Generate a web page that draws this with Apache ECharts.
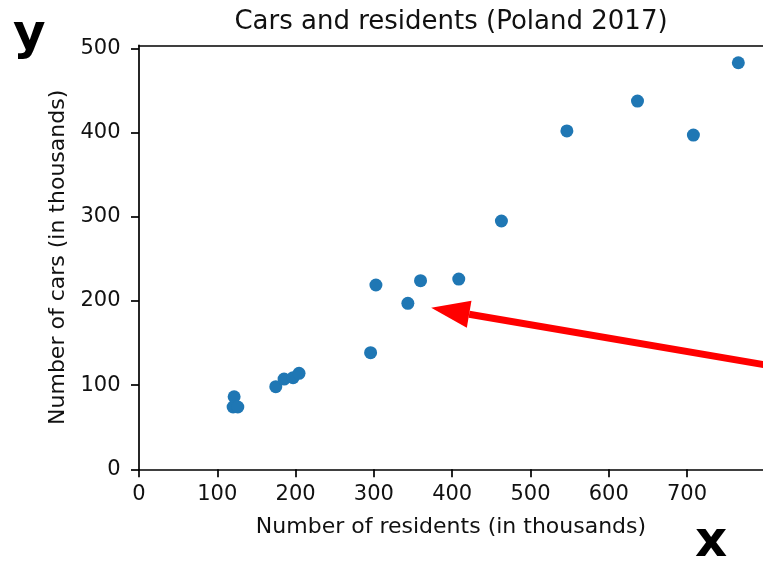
<!DOCTYPE html>
<html>
<head>
<meta charset="utf-8">
<script src="https://cdn.jsdelivr.net/npm/echarts@6/dist/echarts.min.js"></script>
<style>
  html, body { margin: 0; padding: 0; background: #fff; }
  #chart { width: 763px; height: 563px; }
</style>
</head>
<body>
<div id="chart"></div>
<script>
// Residents vs. registered cars in Polish cities, 2017 (thousands)
const residents = [121.5, 120.2, 126.2, 174.7, 185.3, 196.8, 204.4, 295.8, 302.6, 343.4, 359.6, 408.4, 462.9, 546.5, 636.7, 708.1, 765.5];
const cars      = [86.2,  74.0,  74.0,  98.1,  107.2, 108.8, 114.0, 138.5, 218.9, 197.1, 224.0, 226.0, 294.9, 401.9, 437.4, 397.0, 482.9];

const xTicks = [0, 100, 200, 300, 400, 500, 600, 700];
const yTicks = [0, 100, 200, 300, 400, 500];

// Callout arrow, in data units: head at arrowTip, shaft running off to the right
const arrowTip  = [373.2, 191.9];
const arrowTail = [830, 119.2];

const FONT = 'DejaVu Sans';
const TEXT = '#111';

const chart = echarts.init(document.getElementById('chart'), null, { renderer: 'canvas' });

const axisLineStyle = { color: '#000', width: 1.7 };

chart.setOption({
  animation: false,
  backgroundColor: '#fff',
  grid: { left: 139, right: -1, top: 45.4, bottom: 93.7 },
  xAxis: [{
    type: 'value', min: 0, max: 797,
    name: 'Number of residents (in thousands)',
    nameLocation: 'middle', nameGap: 47,
    nameTextStyle: { fontFamily: FONT, fontSize: 22, color: TEXT },
    axisLine: { show: true, onZero: false, lineStyle: axisLineStyle },
    axisTick: { show: true, length: 8, lineStyle: axisLineStyle, customValues: xTicks },
    axisLabel: { fontFamily: FONT, fontSize: 21, color: TEXT, margin: 15, customValues: xTicks },
    splitLine: { show: false }
  }, {
    // top frame line only
    type: 'value', position: 'top', min: 0, max: 797,
    axisLine: { show: true, onZero: false, lineStyle: axisLineStyle },
    axisTick: { show: false }, axisLabel: { show: false }, splitLine: { show: false }
  }],
  yAxis: {
    type: 'value', min: 0, max: 503.5,
    name: 'Number of cars (in thousands)',
    nameLocation: 'middle', nameGap: 70,
    nameTextStyle: { fontFamily: FONT, fontSize: 22, color: TEXT },
    axisLine: { show: true, onZero: false, lineStyle: axisLineStyle },
    axisTick: { show: true, length: 8, lineStyle: axisLineStyle, customValues: yTicks },
    axisLabel: { fontFamily: FONT, fontSize: 21, color: TEXT, margin: 18.5, customValues: yTicks },
    splitLine: { show: false }
  },
  series: [{
    type: 'scatter',
    xAxisIndex: 0,
    data: residents.map((r, i) => [r, cars[i]]),
    symbolSize: 13,
    itemStyle: { color: '#1f77b4', opacity: 1 },
    emphasis: { disabled: true },
    clip: false
  }]
});

// Overlay text and the red callout arrow
const tip = chart.convertToPixel({ xAxisIndex: 0, yAxisIndex: 0 }, arrowTip);
const tail = chart.convertToPixel({ xAxisIndex: 0, yAxisIndex: 0 }, arrowTail);
const dx = tail[0] - tip[0], dy = tail[1] - tip[1];
const len = Math.hypot(dx, dy);
const ux = dx / len, uy = dy / len;
const headLen = 38.5, headHalf = 13.8;
const base = [tip[0] + ux * headLen, tip[1] + uy * headLen];
const px = -uy, py = ux;

chart.setOption({
  graphic: [
    {
      type: 'text', x: 451, y: 22,
      style: { text: 'Cars and residents (Poland 2017)', font: '26px "' + FONT + '"',
               fill: TEXT, textAlign: 'center', textVerticalAlign: 'middle' }
    },
    {
      type: 'text', x: 13, y: 35.7,
      style: { text: 'y', font: 'bold 50px "' + FONT + '"', fill: '#000',
               textAlign: 'left', textVerticalAlign: 'middle' }
    },
    {
      type: 'text', x: 695, y: 542.7,
      style: { text: 'x', font: 'bold 50px "' + FONT + '"', fill: '#000',
               textAlign: 'left', textVerticalAlign: 'middle' }
    },
    {
      type: 'line', z: 100,
      shape: { x1: base[0], y1: base[1], x2: tail[0], y2: tail[1] },
      style: { stroke: '#ff0000', lineWidth: 7 }
    },
    {
      type: 'polygon', z: 100,
      shape: { points: [
        tip,
        [base[0] + px * headHalf, base[1] + py * headHalf],
        [base[0] - px * headHalf, base[1] - py * headHalf]
      ] },
      style: { fill: '#ff0000' }
    }
  ]
});
</script>
</body>
</html>
